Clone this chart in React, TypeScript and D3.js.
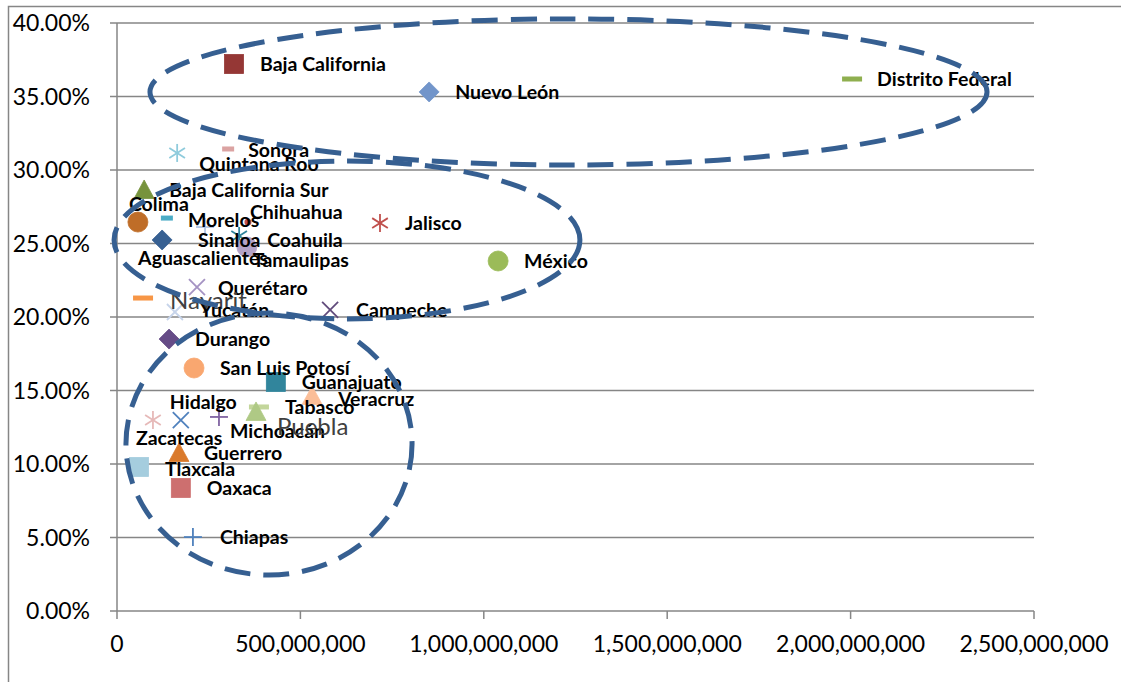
import React from "react";
import * as d3 from "d3";

// ---- data ----
const states = [
  "Baja California", "Nuevo León", "Distrito Federal", "Sonora", "Quintana Roo",
  "Baja California Sur", "Colima", "Morelos", "Chihuahua", "Aguascalientes",
  "Sinaloa", "Coahuila", "Tamaulipas", "Jalisco", "México", "Querétaro",
  "Nayarit", "Yucatán", "Campeche", "Durango", "San Luis Potosí", "Guanajuato",
  "Veracruz", "Tabasco", "Michoacán", "Puebla", "Hidalgo", "Zacatecas",
  "Guerrero", "Tlaxcala", "Oaxaca", "Chiapas",
];
// x values (pesos)
const xValues = [
  319e6, 851e6, 2004e6, 303e6, 164e6,
  74e6, 57e6, 136e6, 357e6, 123e6,
  240e6, 333e6, 354e6, 717e6, 1039e6, 218e6,
  71e6, 158e6, 581e6, 142e6, 210e6, 433e6,
  532e6, 387e6, 379e6, 278e6, 174e6, 98e6,
  169e6, 60e6, 174e6, 207e6,
];
// y values (share)
const yValues = [
  0.3721, 0.3531, 0.3619, 0.3143, 0.3116,
  0.2864, 0.2646, 0.2673, 0.2646, 0.2524,
  0.2612, 0.2551, 0.2476, 0.2639, 0.2381, 0.2204,
  0.2129, 0.2034, 0.2048, 0.1850, 0.1653, 0.1558,
  0.1463, 0.1388, 0.1354, 0.1320, 0.1299, 0.1299,
  0.1075, 0.0980, 0.0837, 0.0503,
];
const xTicks = [0, 500e6, 1000e6, 1500e6, 2000e6, 2500e6];
const yTicks = [0, 0.05, 0.1, 0.15, 0.2, 0.25, 0.3, 0.35, 0.4];

// annotation ellipses (data units: center x, center y, radius x, radius y)
const ellipseCx = [1230.9e6, 627e6, 414.4e6];
const ellipseCy = [0.3531, 0.2524, 0.1136];
const ellipseRx = [1141e6, 635e6, 390e6];
const ellipseRy = [0.0497, 0.0537, 0.0891];

// ---- styles ----
const markers = [
  "square", "diamond", "dashL", "dashS", "star",
  "triangle", "circle", "dashS", "dot", "diamond",
  "plus", "star", "circle", "star", "circle", "x",
  "dashL", "x", "x", "diamond", "circle", "square",
  "triangle", "dashL", "triangle", "plus", "x", "star",
  "triangle", "square", "square", "plus",
];
const colors = [
  "#953735", "#7295CA", "#8FAF4F", "#DBA3A2", "#8FCBDC",
  "#77933C", "#BF6D28", "#4BACC6", "#C0504D", "#376092",
  "#B0C4E4", "#31859C", "#B3A2C7", "#C0504D", "#9BBB59", "#A593C3",
  "#F79646", "#C6D4EA", "#604A7B", "#664C87", "#F9A770", "#31859C",
  "#FBBE98", "#C3D69B", "#AFC985", "#8064A2", "#4F81BD", "#E6B9B8",
  "#DA7A2C", "#A5CDDE", "#CD6F6F", "#4F81BD",
];
const labelDx = [
  26, 26, 25, 20, 22,
  25, -9, 21, 2, -24,
  -7, 28, 6, 25, 26, 21,
  27, 25, 26, 26, 26, 26,
  26, 26, -26, 58, -11, -17,
  25, 26, 26, 27,
];
const labelDy = [
  0, 0, 0, 1, 11,
  0, -18, 2, -10, 18,
  13, 4, 13, 0, 0, 1,
  2, -2, 0, 0, 0, 0,
  3, 0, 19, 9, -18, 18,
  0, 2, 0, 0,
];
const plainLabels = ["Nayarit", "Puebla"];

const W = 1121;
const H = 682;
const PLOT = { left: 117, right: 1034, top: 23, bottom: 611 };
const GRID = "#868686";

function Marker({ type, cx, cy, color }: { type: string; cx: number; cy: number; color: string }) {
  const sw = 1.8;
  switch (type) {
    case "square": {
      const s = 19;
      return <rect x={cx - s / 2} y={cy - s / 2} width={s} height={s} fill={color} stroke={color} strokeWidth={0.8} />;
    }
    case "diamond": {
      const r = 10;
      return <polygon points={`${cx},${cy - r} ${cx + r},${cy} ${cx},${cy + r} ${cx - r},${cy}`} fill={color} stroke={color} strokeWidth={0.8} />;
    }
    case "triangle": {
      const r = 10;
      return <polygon points={`${cx},${cy - r} ${cx + r},${cy + r * 0.85} ${cx - r},${cy + r * 0.85}`} fill={color} stroke={color} strokeWidth={0.8} />;
    }
    case "circle":
      return <circle cx={cx} cy={cy} r={10} fill={color} stroke={color} strokeWidth={0.8} />;
    case "dot":
      return <circle cx={cx} cy={cy} r={3.5} fill={color} />;
    case "dashL":
      return <rect x={cx - 10} y={cy - 2.5} width={20} height={5} fill={color} />;
    case "dashS":
      return <rect x={cx - 6} y={cy - 2.5} width={12} height={5} fill={color} />;
    case "x": {
      const r = 8;
      return (
        <g stroke={color} strokeWidth={sw}>
          <line x1={cx - r} y1={cy - r} x2={cx + r} y2={cy + r} />
          <line x1={cx - r} y1={cy + r} x2={cx + r} y2={cy - r} />
        </g>
      );
    }
    case "star": {
      const r = 9;
      const a = r * 0.87;
      return (
        <g stroke={color} strokeWidth={sw}>
          <line x1={cx} y1={cy - r} x2={cx} y2={cy + r} />
          <line x1={cx - a} y1={cy - r * 0.55} x2={cx + a} y2={cy + r * 0.55} />
          <line x1={cx - a} y1={cy + r * 0.55} x2={cx + a} y2={cy - r * 0.55} />
        </g>
      );
    }
    case "plus": {
      const r = 9;
      return (
        <g stroke={color} strokeWidth={sw}>
          <line x1={cx - r} y1={cy} x2={cx + r} y2={cy} />
          <line x1={cx} y1={cy - r} x2={cx} y2={cy + r} />
        </g>
      );
    }
    default:
      return null;
  }
}

export default function App() {
  const x = d3.scaleLinear().domain([0, 2500e6]).range([PLOT.left, PLOT.right]);
  const y = d3.scaleLinear().domain([0, 0.4]).range([PLOT.bottom, PLOT.top]);
  const fmtX = d3.format(",");
  const fmtY = d3.format(".2%");

  const pts = states.map((name, i) => ({
    name,
    px: x(xValues[i]),
    py: y(yValues[i]),
    marker: markers[i],
    color: colors[i],
    dx: labelDx[i],
    dy: labelDy[i],
  }));

  return (
    <svg
      width={W}
      height={H}
      style={{ position: "absolute", left: 0, top: 0, background: "#fff" }}
      fontFamily="Lato, 'Open Sans', sans-serif"
    >
      <rect x={0} y={0} width={W} height={H} fill="#fff" />
      {/* chart frame */}
      <rect x={8.5} y={6.5} width={W + 20} height={H + 20} fill="none" stroke={GRID} strokeWidth={1.5} />

      {/* gridlines */}
      {yTicks.filter((t) => t > 0).map((t) => (
        <line key={"g" + t} x1={PLOT.left} x2={PLOT.right} y1={y(t)} y2={y(t)} stroke={GRID} strokeWidth={1.5} />
      ))}
      {/* y axis */}
      <line x1={PLOT.left} x2={PLOT.left} y1={PLOT.top} y2={PLOT.bottom} stroke={GRID} strokeWidth={1.5} />
      {yTicks.map((t) => (
        <g key={"yt" + t}>
          <line x1={PLOT.left - 7} x2={PLOT.left} y1={y(t)} y2={y(t)} stroke={GRID} strokeWidth={1.5} />
          <text x={90} y={y(t)} dy="0.36em" textAnchor="end" fontSize={23} fill="#000">
            {fmtY(t)}
          </text>
        </g>
      ))}
      {/* x axis */}
      <line x1={PLOT.left} x2={PLOT.right} y1={PLOT.bottom} y2={PLOT.bottom} stroke={GRID} strokeWidth={1.5} />
      {xTicks.map((t) => (
        <g key={"xt" + t}>
          <line x1={x(t)} x2={x(t)} y1={PLOT.bottom} y2={PLOT.bottom + 8} stroke={GRID} strokeWidth={1.5} />
          <text x={x(t)} y={644} dy="0.36em" textAnchor="middle" fontSize={23} fill="#000">
            {fmtX(t)}
          </text>
        </g>
      ))}

      {/* markers */}
      {pts.map((p) => (
        <Marker key={"m" + p.name} type={p.marker} cx={p.px} cy={p.py} color={p.color} />
      ))}
      {/* labels */}
      {pts.map((p) => {
        const plain = plainLabels.includes(p.name);
        return (
          <text
            key={"l" + p.name}
            x={p.px + p.dx}
            y={p.py + p.dy}
            dy="0.36em"
            fontSize={plain ? 24 : 19.5}
            fontWeight={plain ? 400 : 700}
            fill={plain ? "#404040" : "#000"}
          >
            {p.name}
          </text>
        );
      })}

      {/* dashed annotation ellipses */}
      {ellipseCx.map((cx, i) => (
        <ellipse
          key={"e" + i}
          cx={x(cx)}
          cy={y(ellipseCy[i])}
          rx={x(ellipseRx[i]) - x(0)}
          ry={y(0) - y(ellipseRy[i])}
          fill="none"
          stroke="#365F91"
          strokeWidth={5}
          strokeDasharray="26 13"
        />
      ))}
    </svg>
  );
}
